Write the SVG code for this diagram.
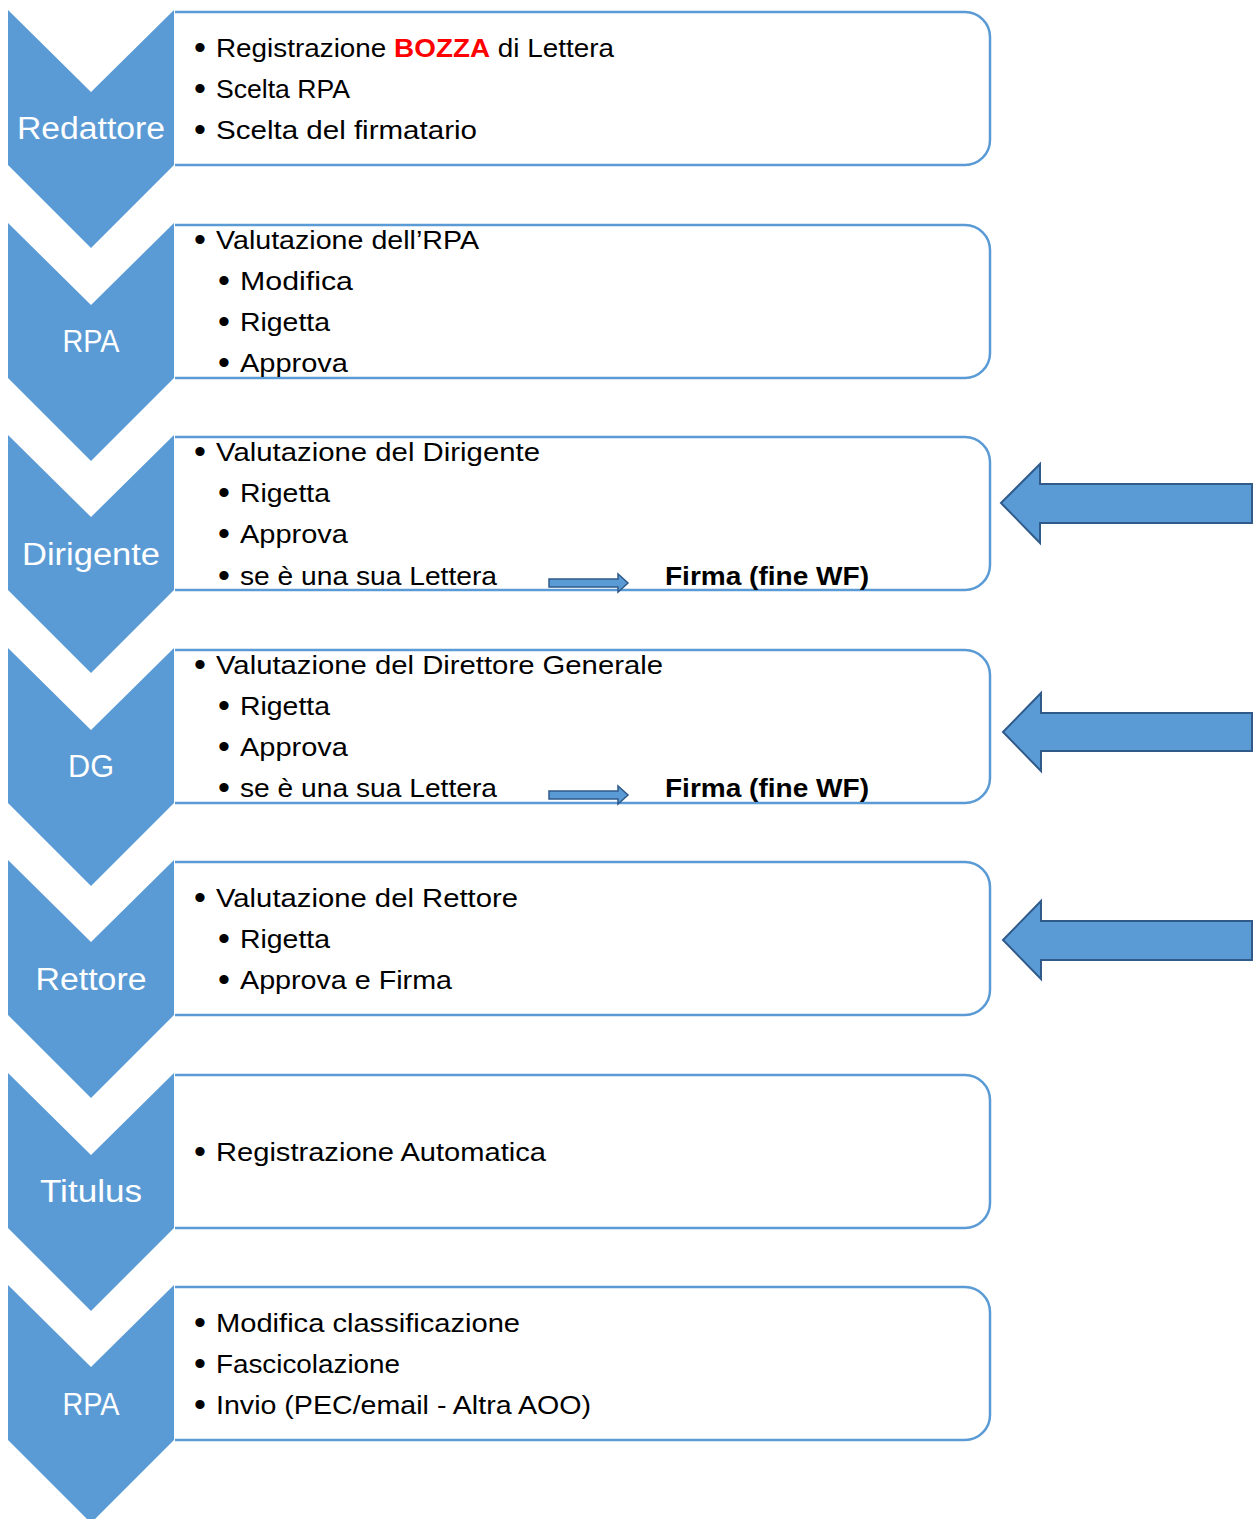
<svg xmlns="http://www.w3.org/2000/svg" width="1253" height="1519" viewBox="0 0 1253 1519">
<style>
.chev{fill:#5B9BD5}
.box{fill:#fff;stroke:#5B9BD5;stroke-width:2.5}
.lbl{font-family:"Liberation Sans",Arial,sans-serif;font-size:31px;fill:#fff;text-anchor:middle}
.t{font-family:"Liberation Sans",Arial,sans-serif;font-size:26px;fill:#000}
.d{font-family:"Liberation Sans",Arial,sans-serif;font-size:34px;fill:#000;text-anchor:middle}
.b{font-family:"Liberation Sans",Arial,sans-serif;font-size:26px;font-weight:bold;fill:#000}
.big{fill:#5B9BD5;stroke:#2F5A8A;stroke-width:2}
.sm{fill:#5B9BD5;stroke:#2F5A8A;stroke-width:1.5}
</style>
<defs>
<path id="chv" d="M8,0 L91,82 L174,0 L174,155 L91,238 L8,155 Z"/>
<path id="bx" d="M175,0 L965,0 A25,25 0 0 1 990,25 L990,128 A25,25 0 0 1 965,153 L175,153"/>
</defs>
<g id="node-redattore">
<use href="#chv" class="chev" y="10"/>
<use href="#bx" class="box" y="12"/>
<text class="lbl" x="91" y="139" textLength="148" lengthAdjust="spacingAndGlyphs">Redattore</text>
<text class="d" x="200" y="59">•</text><text class="t" x="216" y="57" textLength="398" lengthAdjust="spacingAndGlyphs">Registrazione <tspan fill="#FF0000" font-weight="bold">BOZZA</tspan> di Lettera</text>
<text class="d" x="200" y="100">•</text><text class="t" x="216" y="98" textLength="134" lengthAdjust="spacingAndGlyphs">Scelta RPA</text>
<text class="d" x="200" y="141">•</text><text class="t" x="216" y="139" textLength="261" lengthAdjust="spacingAndGlyphs">Scelta del firmatario</text>
</g>
<g id="node-rpa1">
<use href="#chv" class="chev" y="223"/>
<use href="#bx" class="box" y="225"/>
<text class="lbl" x="91" y="352" textLength="57" lengthAdjust="spacingAndGlyphs">RPA</text>
<text class="d" x="200" y="251">•</text><text class="t" x="216" y="249" textLength="263" lengthAdjust="spacingAndGlyphs">Valutazione dell’RPA</text>
<text class="d" x="224" y="292">•</text><text class="t" x="240" y="290" textLength="113" lengthAdjust="spacingAndGlyphs">Modifica</text>
<text class="d" x="224" y="333">•</text><text class="t" x="240" y="331" textLength="90" lengthAdjust="spacingAndGlyphs">Rigetta</text>
<text class="d" x="224" y="374">•</text><text class="t" x="240" y="372" textLength="108" lengthAdjust="spacingAndGlyphs">Approva</text>
</g>
<g id="node-dirigente">
<use href="#chv" class="chev" y="435"/>
<use href="#bx" class="box" y="437"/>
<text class="lbl" x="91" y="565" textLength="138" lengthAdjust="spacingAndGlyphs">Dirigente</text>
<text class="d" x="200" y="463">•</text><text class="t" x="216" y="461" textLength="324" lengthAdjust="spacingAndGlyphs">Valutazione del Dirigente</text>
<text class="d" x="224" y="504">•</text><text class="t" x="240" y="502" textLength="90" lengthAdjust="spacingAndGlyphs">Rigetta</text>
<text class="d" x="224" y="545">•</text><text class="t" x="240" y="543" textLength="108" lengthAdjust="spacingAndGlyphs">Approva</text>
<text class="d" x="224" y="587">•</text><text class="t" x="240" y="585" textLength="257" lengthAdjust="spacingAndGlyphs">se è una sua Lettera</text>
<path class="sm" d="M549,579 L618,579 L618,574 L628,583 L618,592 L618,587 L549,587 Z"/>
<text class="b" x="665" y="585" textLength="204" lengthAdjust="spacingAndGlyphs">Firma (fine WF)</text>
</g>
<g id="node-dg">
<use href="#chv" class="chev" y="648"/>
<use href="#bx" class="box" y="650"/>
<text class="lbl" x="91" y="777" textLength="46" lengthAdjust="spacingAndGlyphs">DG</text>
<text class="d" x="200" y="676">•</text><text class="t" x="216" y="674" textLength="447" lengthAdjust="spacingAndGlyphs">Valutazione del Direttore Generale</text>
<text class="d" x="224" y="717">•</text><text class="t" x="240" y="715" textLength="90" lengthAdjust="spacingAndGlyphs">Rigetta</text>
<text class="d" x="224" y="758">•</text><text class="t" x="240" y="756" textLength="108" lengthAdjust="spacingAndGlyphs">Approva</text>
<text class="d" x="224" y="799">•</text><text class="t" x="240" y="797" textLength="257" lengthAdjust="spacingAndGlyphs">se è una sua Lettera</text>
<path class="sm" d="M549,791 L618,791 L618,786 L628,795 L618,804 L618,799 L549,799 Z"/>
<text class="b" x="665" y="797" textLength="204" lengthAdjust="spacingAndGlyphs">Firma (fine WF)</text>
</g>
<g id="node-rettore">
<use href="#chv" class="chev" y="860"/>
<use href="#bx" class="box" y="862"/>
<text class="lbl" x="91" y="990" textLength="111" lengthAdjust="spacingAndGlyphs">Rettore</text>
<text class="d" x="200" y="909">•</text><text class="t" x="216" y="907" textLength="302" lengthAdjust="spacingAndGlyphs">Valutazione del Rettore</text>
<text class="d" x="224" y="950">•</text><text class="t" x="240" y="948" textLength="90" lengthAdjust="spacingAndGlyphs">Rigetta</text>
<text class="d" x="224" y="991">•</text><text class="t" x="240" y="989" textLength="212" lengthAdjust="spacingAndGlyphs">Approva e Firma</text>
</g>
<g id="node-titulus">
<use href="#chv" class="chev" y="1073"/>
<use href="#bx" class="box" y="1075"/>
<text class="lbl" x="91" y="1202" textLength="102" lengthAdjust="spacingAndGlyphs">Titulus</text>
<text class="d" x="200" y="1163">•</text><text class="t" x="216" y="1161" textLength="330" lengthAdjust="spacingAndGlyphs">Registrazione Automatica</text>
</g>
<g id="node-rpa2">
<use href="#chv" class="chev" y="1285"/>
<use href="#bx" class="box" y="1287"/>
<text class="lbl" x="91" y="1415" textLength="57" lengthAdjust="spacingAndGlyphs">RPA</text>
<text class="d" x="200" y="1334">•</text><text class="t" x="216" y="1332" textLength="304" lengthAdjust="spacingAndGlyphs">Modifica classificazione</text>
<text class="d" x="200" y="1375">•</text><text class="t" x="216" y="1373" textLength="184" lengthAdjust="spacingAndGlyphs">Fascicolazione</text>
<text class="d" x="200" y="1416">•</text><text class="t" x="216" y="1414" textLength="375" lengthAdjust="spacingAndGlyphs">Invio (PEC/email - Altra AOO)</text>
</g>
<g id="connectors">
<path class="big" d="M1001,503 L1040,464 L1040,484 L1252,484 L1252,523 L1040,523 L1040,543 Z"/>
<path class="big" d="M1003,732 L1041,693 L1041,713 L1252,713 L1252,751 L1041,751 L1041,771 Z"/>
<path class="big" d="M1003,940 L1041,901 L1041,921 L1252,921 L1252,960 L1041,960 L1041,979 Z"/>
</g>
</svg>
